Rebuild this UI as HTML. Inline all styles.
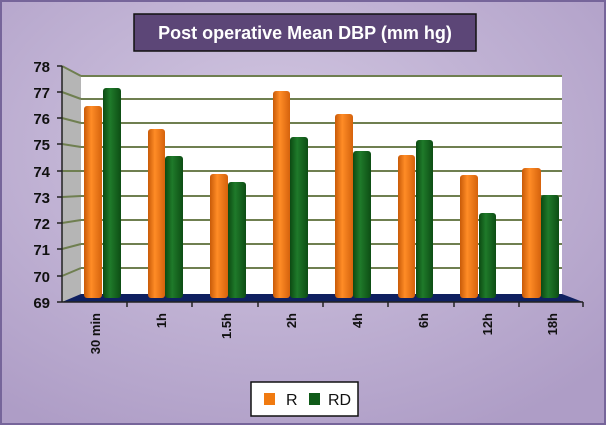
<!DOCTYPE html>
<html><head><style>
html,body{margin:0;padding:0;}
body{width:606px;height:425px;overflow:hidden;}
</style></head><body>
<svg width="606" height="425" viewBox="0 0 606 425" xmlns="http://www.w3.org/2000/svg" font-family="Liberation Sans, sans-serif">
<defs>
<radialGradient id="bg" cx="45%" cy="35%" r="75%">
<stop offset="0" stop-color="#d3c8e2"/><stop offset="1" stop-color="#ae9dc6"/>
</radialGradient>
<linearGradient id="og" x1="0" x2="1"><stop offset="0" stop-color="#c85a08"/><stop offset="0.4" stop-color="#ff8c26"/><stop offset="1" stop-color="#d5620c"/></linearGradient>
<linearGradient id="gg" x1="0" x2="1"><stop offset="0" stop-color="#0c4a12"/><stop offset="0.4" stop-color="#1f7a2a"/><stop offset="1" stop-color="#0d4d14"/></linearGradient>
</defs>
<rect x="1" y="1" width="604" height="423" fill="url(#bg)" stroke="#76659a" stroke-width="2"/>
<rect x="134" y="14" width="342" height="37" fill="#5c4677" stroke="#111" stroke-width="1.5"/>
<text x="305" y="39" text-anchor="middle" fill="#fff" font-size="18" font-weight="bold">Post operative Mean DBP  (mm hg)</text>
<polygon points="62,66 81,76 81,294 62,302" fill="#b5b5b5"/>
<rect x="81" y="76" width="481" height="218" fill="#fff"/>
<g stroke="#6f7f50" stroke-width="2">
<line x1="81" y1="76" x2="562" y2="76"/>
<line x1="81" y1="99" x2="562" y2="99"/><line x1="81" y1="123" x2="562" y2="123"/>
<line x1="81" y1="147" x2="562" y2="147"/><line x1="81" y1="171" x2="562" y2="171"/>
<line x1="81" y1="196" x2="562" y2="196"/><line x1="81" y1="220" x2="562" y2="220"/>
<line x1="81" y1="244" x2="562" y2="244"/><line x1="81" y1="268" x2="562" y2="268"/>
<line x1="62" y1="66" x2="81" y2="76"/><line x1="62" y1="92" x2="81" y2="99"/>
<line x1="62" y1="118" x2="81" y2="123"/><line x1="62" y1="144" x2="81" y2="147"/>
<line x1="62" y1="171" x2="81" y2="171"/><line x1="62" y1="197" x2="81" y2="196"/>
<line x1="62" y1="223" x2="81" y2="220"/><line x1="62" y1="249" x2="81" y2="244"/>
<line x1="62" y1="276" x2="81" y2="268"/>
</g>
<polygon points="62,302 81,294 562,294 583,302" fill="#0f2060"/>
<g>
<rect x="84" y="106" width="18" height="192" rx="3" fill="url(#og)"/><rect x="103" y="88" width="18" height="210" rx="3" fill="url(#gg)"/>
<rect x="148" y="129" width="17" height="169" rx="3" fill="url(#og)"/><rect x="165" y="156" width="18" height="142" rx="3" fill="url(#gg)"/>
<rect x="210" y="174" width="18" height="124" rx="3" fill="url(#og)"/><rect x="228" y="182" width="18" height="116" rx="3" fill="url(#gg)"/>
<rect x="273" y="91" width="17" height="207" rx="3" fill="url(#og)"/><rect x="290" y="137" width="18" height="161" rx="3" fill="url(#gg)"/>
<rect x="335" y="114" width="18" height="184" rx="3" fill="url(#og)"/><rect x="353" y="151" width="18" height="147" rx="3" fill="url(#gg)"/>
<rect x="398" y="155" width="17" height="143" rx="3" fill="url(#og)"/><rect x="416" y="140" width="17" height="158" rx="3" fill="url(#gg)"/>
<rect x="460" y="175" width="18" height="123" rx="3" fill="url(#og)"/><rect x="479" y="213" width="17" height="85" rx="3" fill="url(#gg)"/>
<rect x="522" y="168" width="19" height="130" rx="3" fill="url(#og)"/><rect x="541" y="195" width="18" height="103" rx="3" fill="url(#gg)"/>
</g>
<g stroke="#222" stroke-width="1.5">
<line x1="62" y1="66" x2="62" y2="302"/>
<line x1="62" y1="302" x2="583" y2="302"/>
<line x1="57" y1="66" x2="62" y2="66"/><line x1="57" y1="92" x2="62" y2="92"/><line x1="57" y1="118" x2="62" y2="118"/>
<line x1="57" y1="144" x2="62" y2="144"/><line x1="57" y1="171" x2="62" y2="171"/><line x1="57" y1="197" x2="62" y2="197"/>
<line x1="57" y1="223" x2="62" y2="223"/><line x1="57" y1="249" x2="62" y2="249"/><line x1="57" y1="276" x2="62" y2="276"/>
<line x1="57" y1="302" x2="62" y2="302"/>
<line x1="127" y1="302" x2="127" y2="307"/><line x1="192" y1="302" x2="192" y2="307"/><line x1="258" y1="302" x2="258" y2="307"/>
<line x1="323" y1="302" x2="323" y2="307"/><line x1="388" y1="302" x2="388" y2="307"/><line x1="454" y1="302" x2="454" y2="307"/>
<line x1="519" y1="302" x2="519" y2="307"/><line x1="583" y1="302" x2="583" y2="307"/>
</g>
<g font-size="15" font-weight="bold" fill="#111" text-anchor="end">
<text x="50" y="72">78</text><text x="50" y="98">77</text><text x="50" y="124">76</text><text x="50" y="150">75</text>
<text x="50" y="177">74</text><text x="50" y="203">73</text><text x="50" y="229">72</text><text x="50" y="255">71</text>
<text x="50" y="282">70</text><text x="50" y="308">69</text>
</g>
<g font-size="13" font-weight="bold" fill="#111" text-anchor="end">
<text transform="translate(100,313) rotate(-90)">30 min</text>
<text transform="translate(166,313) rotate(-90)">1h</text>
<text transform="translate(231,313) rotate(-90)">1.5h</text>
<text transform="translate(296,313) rotate(-90)">2h</text>
<text transform="translate(362,313) rotate(-90)">4h</text>
<text transform="translate(428,313) rotate(-90)">6h</text>
<text transform="translate(492,313) rotate(-90)">12h</text>
<text transform="translate(557,313) rotate(-90)">18h</text>
</g>
<rect x="251" y="382" width="107" height="34" fill="#fff" stroke="#111" stroke-width="1.5"/>
<rect x="264" y="393" width="11" height="12" fill="#f07a10"/>
<text x="286" y="405" font-size="16" fill="#111">R</text>
<rect x="309" y="393" width="11" height="12" fill="#0f5a18"/>
<text x="328" y="405" font-size="16" fill="#111">RD</text>
</svg>
</body></html>
